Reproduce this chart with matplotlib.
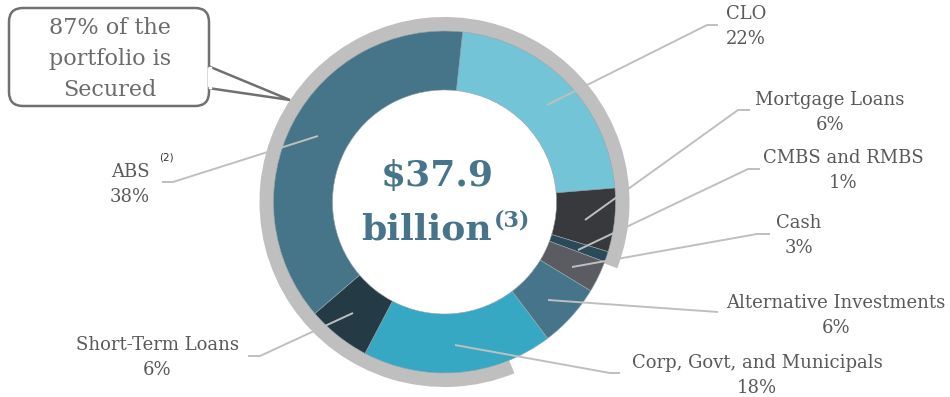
import matplotlib

matplotlib.use("Agg")
import matplotlib.pyplot as plt
from matplotlib.patches import FancyBboxPatch, Polygon

# Portfolio composition (%), clockwise from the top
sectors = ["CLO", "Mortgage Loans", "CMBS and RMBS", "Cash",
           "Alternative Investments", "Corp, Govt, and Municipals",
           "Short-Term Loans", "ABS"]
shares = [22, 6, 1, 3, 6, 18, 6, 38]
colors = ["#74C4D7", "#38393D", "#2B4A59", "#5A5C61",
          "#46748A", "#37A8C4", "#243A45", "#46758A"]
secured_share = 87
total_label = "$37.9"

W, H = 950, 397
fig = plt.figure(figsize=(W / 100, H / 100), dpi=100)
ax = fig.add_axes([0, 0, 1, 1])

cx, cy = 444.5, H - 202
r_out, r_in = 171, 112


def top(y):
    # pixel rows are counted from the top of the figure
    return H - y


# grey arc marking the secured part of the portfolio
ax.pie([100 - secured_share, secured_share], colors=["none", "#BFBFBF"],
       startangle=-21, counterclock=False, center=(cx, cy), radius=185,
       wedgeprops=dict(width=19, linewidth=0), frame=True)

ax.pie(shares, colors=colors, startangle=83.9, counterclock=False,
       center=(cx, cy), radius=r_out,
       wedgeprops=dict(width=r_out - r_in, edgecolor="#9aa5ab", linewidth=0.4),
       frame=True)
ax.set_xlim(0, W)
ax.set_ylim(0, H)
ax.set_aspect("equal")
ax.axis("off")

label_color = "#595959"
line_color = "#BFBFBF"
font = "DejaVu Serif"

# (text x, first line y, leader points) in pixel space
labels = {
    "CLO": (746, 14, [(547, 105), (707, 25), (718, 25)]),
    "Mortgage Loans": (830, 100, [(585, 220), (738, 110), (750, 110)]),
    "CMBS and RMBS": (843, 158, [(578, 250), (748, 169), (760, 169)]),
    "Cash": (799, 223, [(572, 267), (757, 234), (770, 234)]),
    "Alternative Investments": (836, 303, [(548, 300), (718, 312)]),
    "Corp, Govt, and Municipals": (757, 363, [(455, 345), (610, 373), (620, 373)]),
    "Short-Term Loans": (157, 345, [(353, 313), (260, 356), (248, 356)]),
    "ABS": (130, 172, [(318, 136), (173, 182), (162, 182)]),
}

for name, share in zip(sectors, shares):
    tx, ty, pts = labels[name]
    ax.plot([p[0] for p in pts], [top(p[1]) for p in pts],
            color=line_color, lw=1.4, solid_capstyle="butt")
    ax.text(tx, top(ty), name, ha="center", va="center",
            fontsize=13, color=label_color, family=font)
    ax.text(tx, top(ty + 25), f"{share}%", ha="center", va="center",
            fontsize=13, color=label_color, family=font)

ax.text(166, top(157), "(2)", ha="center", va="center", fontsize=7.5,
        color="#333333", family="DejaVu Sans")

# centre total
center_color = "#46748A"
ax.text(437, top(176), total_label, ha="center", va="center",
        fontsize=26, fontweight="bold", color=center_color, family=font)
ax.text(427, top(229), "billion", ha="center", va="center",
        fontsize=26, fontweight="bold", color=center_color, family=font)
ax.text(512, top(220), "(3)", ha="center", va="center",
        fontsize=16, fontweight="bold", color=center_color, family=font)

# callout bubble
box = FancyBboxPatch((9, top(106)), 200, 98,
                     boxstyle="round,pad=0,rounding_size=14",
                     facecolor="white", edgecolor="#707070", lw=1.8, zorder=5)
ax.add_patch(box)
tail = Polygon([(208, top(66)), (290, top(100)), (208, top(88))],
               closed=False, facecolor="white", edgecolor="#707070",
               lw=1.8, zorder=6)
ax.add_patch(tail)
ax.plot([209.5, 209.5], [top(67.5), top(86.5)], color="white", lw=2.5, zorder=7)
for i, line in enumerate(["87% of the", "portfolio is", "Secured"]):
    ax.text(110, top(28 + 31 * i), line, ha="center", va="center",
            fontsize=16, color="#6B6B6B", family=font, zorder=8)

fig.savefig("out.png", dpi=100)
